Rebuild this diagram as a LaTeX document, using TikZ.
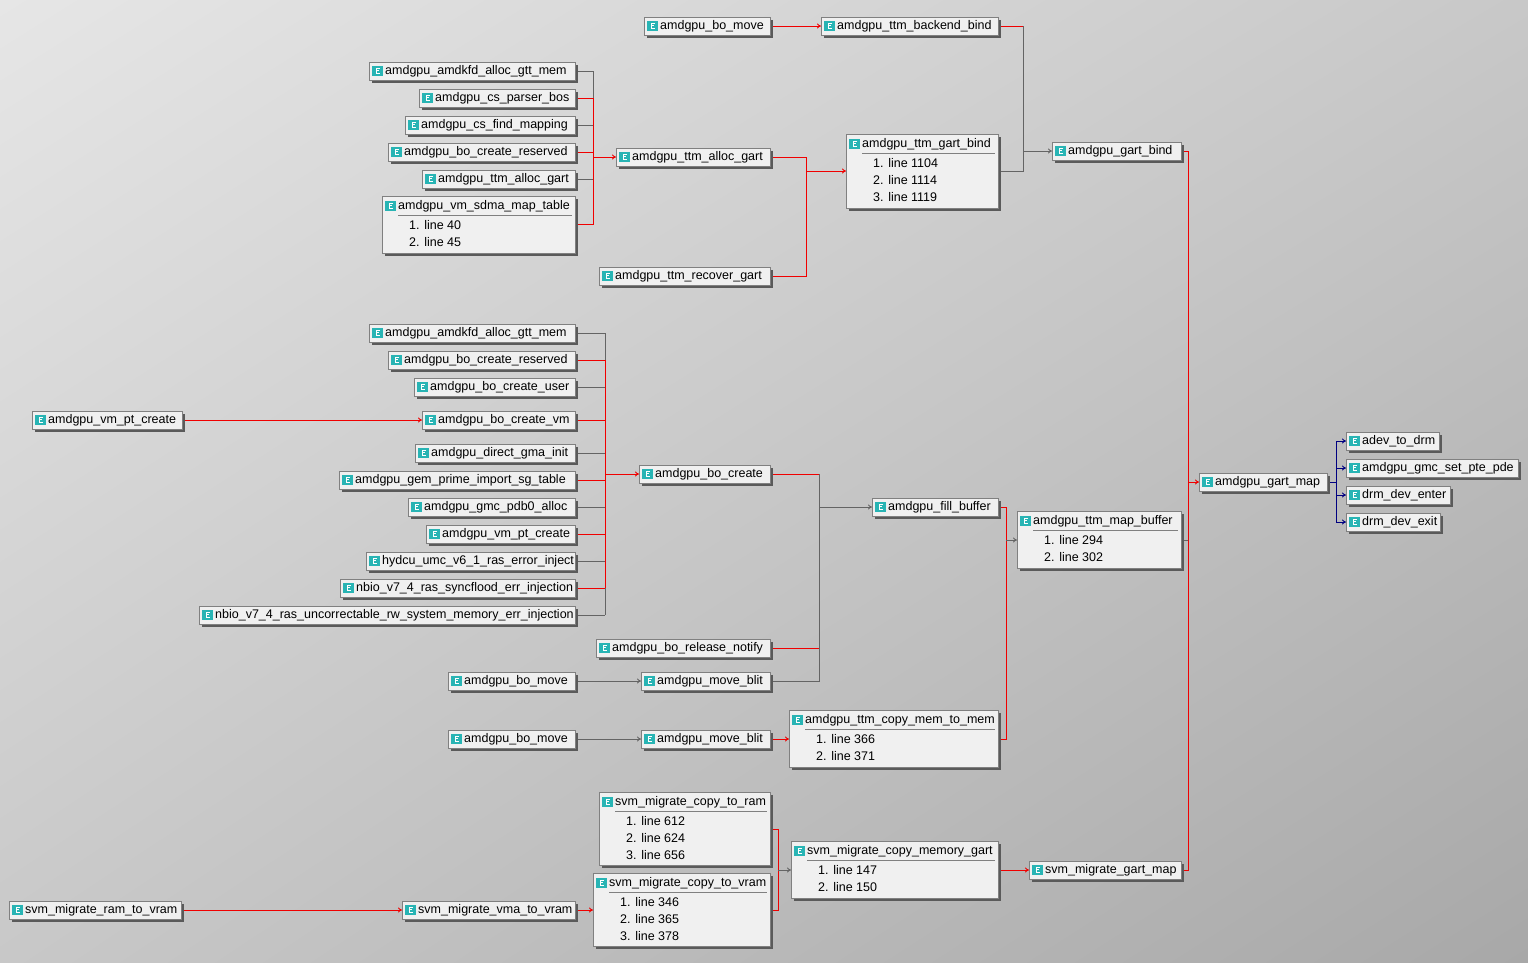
\documentclass[tikz,border=0pt]{standalone}
\usepackage{fontspec}
\setmainfont{Liberation Sans}
\usetikzlibrary{arrows.meta,shadings}
\definecolor{bgA}{RGB}{230,230,230}
\definecolor{bgB}{RGB}{200,200,200}
\definecolor{bgC}{RGB}{168,168,168}
\definecolor{boxfill}{RGB}{240,240,240}
\definecolor{boxline}{RGB}{128,128,128}
\definecolor{shadowc}{RGB}{90,90,90}
\definecolor{iconc}{RGB}{40,180,180}
\definecolor{redc}{RGB}{240,0,0}
\definecolor{grayc}{RGB}{100,100,100}
\definecolor{navyc}{RGB}{0,0,128}
\tikzset{
  boxst/.style={draw=boxline,fill=boxfill,line width=1pt,inner sep=0pt,anchor=north west},
  lbl/.style={anchor=west,inner sep=0pt,font=\fontsize{12.5}{14}\selectfont,text=black},
  rd/.style={draw=redc,line width=0.9pt},
  gr/.style={draw=grayc,line width=0.9pt},
  nv/.style={draw=navyc,line width=0.9pt},
  arr/.style={-{To[length=4pt,width=5pt]}},
}
% name, x1, x2, yc, text
\newcommand\fn[5]{%
  \fill[shadowc] (#2+3,#4-6) rectangle (#3+3,#4+12);
  \node[boxst,minimum width=#3pt-#2pt,minimum height=18pt] (#1) at (#2,#4-9) {};
  \fill[iconc] (#2+3,#4-5.5) rectangle (#2+14,#4+5);
  \draw[white,line width=0.9pt] (#2+11,#4-3) -- (#2+7,#4-3) -- (#2+7,#4+2.5) -- (#2+11,#4+2.5) (#2+7,#4-0.3) -- (#2+10,#4-0.3);
  \node[lbl] at (#2+16,#4) {#5};}
% name, x1, x2, ytop, ybot, title, lines
\newcommand\fm[7]{%
  \fill[shadowc] (#2+3,#4+3) rectangle (#3+3,#5+3);
  \node[boxst,minimum width=#3pt-#2pt,minimum height=#5pt-#4pt] (#1) at (#2,#4) {};
  \fill[iconc] (#2+3,#4+4.5) rectangle (#2+14,#4+15);
  \draw[white,line width=0.9pt] (#2+11,#4+7) -- (#2+7,#4+7) -- (#2+7,#4+12.5) -- (#2+11,#4+12.5) (#2+7,#4+9.7) -- (#2+10,#4+9.7);
  \node[lbl] at (#2+16,#4+10) {#6};
  \draw[boxline,line width=0.8pt] (#2+16,#4+19) -- (#3-3,#4+19);
  \foreach \t [count=\i] in {#7} {\node[lbl] at (#2+27,#4+12+17*\i) {\t};}}
\begin{document}
\begin{tikzpicture}[x=1pt,y=-1pt]
\shade[upper left=bgA,upper right=bgB,lower left=bgB,lower right=bgC] (0,0) rectangle (1528,962);
\useasboundingbox (0,0) rectangle (1528,962);
% ---------- connectors ----------
\draw[rd,arr] (770,26) -- (821,26);
\draw[rd] (998,26) -- (1023,26);
\draw[gr] (1023,26) -- (1023,171) -- (998,171);
\draw[gr,arr] (1023,151) -- (1052,151);
% group top
\draw[gr] (575,71) -- (593,71) -- (593,98);
\draw[gr] (575,125) -- (593,125);
\draw[gr] (575,179) -- (593,179);
\draw[rd] (575,98) -- (593,98) -- (593,224) -- (575,224);
\draw[rd] (575,152) -- (593,152);
\draw[rd,arr] (593,157) -- (616,157);
\draw[rd] (770,157) -- (806,157) -- (806,276) -- (770,276);
\draw[rd,arr] (806,171) -- (846,171);
% gart_bind bus
\draw[gr] (1181,540) -- (1188,540);
\draw[rd] (1181,151) -- (1188,151) -- (1188,870) -- (1181,870);
\draw[rd,arr] (1188,482) -- (1199,482);
\draw[nv] (1327,482) -- (1336,482);
\draw[nv] (1336,441) -- (1336,522);
\foreach \y in {441,468,495,522} \draw[nv,arr] (1336,\y) -- (1346,\y);
% group 2
\foreach \y in {333,387,453,507,561,615} \draw[gr] (575,\y) -- (605,\y);
\draw[gr] (605,333) -- (605,615);
\foreach \y in {360,420,480,534,588} \draw[rd] (575,\y) -- (605,\y);
\draw[rd] (605,360) -- (605,588);
\draw[rd,arr] (605,474) -- (639,474);
\draw[rd,arr] (182,420) -- (422,420);
\draw[rd] (770,474) -- (819,474);
\draw[gr] (819,474) -- (819,681) -- (770,681);
\draw[rd] (770,648) -- (819,648);
\draw[gr,arr] (819,507) -- (872,507);
\draw[gr,arr] (575,681) -- (641,681);
\draw[gr,arr] (575,739) -- (641,739);
\draw[rd,arr] (770,739) -- (789,739);
\draw[rd] (998,507) -- (1006,507) -- (1006,739) -- (998,739);
\draw[gr,arr] (1006,540) -- (1017,540);
% svm
\draw[rd] (770,829) -- (778,829) -- (778,910) -- (770,910);
\draw[gr,arr] (778,870) -- (791,870);
\draw[rd,arr] (181,910) -- (402,910);
\draw[rd,arr] (575,910) -- (593,910);
\draw[rd,arr] (998,870) -- (1029,870);
% ---------- nodes ----------
\fn{bomoveA}{644}{770}{26}{amdgpu\_bo\_move}
\fn{backend}{821}{998}{26}{amdgpu\_ttm\_backend\_bind}
\fn{kfdA}{369}{575}{71}{amdgpu\_amdkfd\_alloc\_gtt\_mem}
\fn{parser}{419}{575}{98}{amdgpu\_cs\_parser\_bos}
\fn{findmap}{405}{575}{125}{amdgpu\_cs\_find\_mapping}
\fn{reservA}{388}{575}{152}{amdgpu\_bo\_create\_reserved}
\fn{allocA}{422}{575}{179}{amdgpu\_ttm\_alloc\_gart}
\fm{sdma}{382}{575}{196}{253}{amdgpu\_vm\_sdma\_map\_table}{1. line 40,2. line 45}
\fn{allocB}{616}{770}{157}{amdgpu\_ttm\_alloc\_gart}
\fn{recover}{599}{770}{276}{amdgpu\_ttm\_recover\_gart}
\fm{gartbindttm}{846}{998}{134}{208}{amdgpu\_ttm\_gart\_bind}{1. line 1104,2. line 1114,3. line 1119}
\fn{gartbind}{1052}{1181}{151}{amdgpu\_gart\_bind}
\fn{kfdB}{369}{575}{333}{amdgpu\_amdkfd\_alloc\_gtt\_mem}
\fn{reservB}{388}{575}{360}{amdgpu\_bo\_create\_reserved}
\fn{cuser}{414}{575}{387}{amdgpu\_bo\_create\_user}
\fn{cvm}{422}{575}{420}{amdgpu\_bo\_create\_vm}
\fn{ptcreateL}{32}{182}{420}{amdgpu\_vm\_pt\_create}
\fn{gma}{415}{575}{453}{amdgpu\_direct\_gma\_init}
\fn{prime}{339}{575}{480}{amdgpu\_gem\_prime\_import\_sg\_table}
\fn{pdb}{408}{575}{507}{amdgpu\_gmc\_pdb0\_alloc}
\fn{ptcreate}{426}{575}{534}{amdgpu\_vm\_pt\_create}
\fn{hydcu}{366}{575}{561}{hydcu\_umc\_v6\_1\_ras\_error\_inject}
\fn{nbioA}{340}{575}{588}{nbio\_v7\_4\_ras\_syncflood\_err\_injection}
\fn{nbioB}{199}{575}{615}{nbio\_v7\_4\_ras\_uncorrectable\_rw\_system\_memory\_err\_injection}
\fn{bocreate}{639}{770}{474}{amdgpu\_bo\_create}
\fn{release}{596}{770}{648}{amdgpu\_bo\_release\_notify}
\fn{bomoveB}{448}{575}{681}{amdgpu\_bo\_move}
\fn{blitB}{641}{770}{681}{amdgpu\_move\_blit}
\fn{bomoveC}{448}{575}{739}{amdgpu\_bo\_move}
\fn{blitC}{641}{770}{739}{amdgpu\_move\_blit}
\fm{copymem}{789}{998}{710}{767}{amdgpu\_ttm\_copy\_mem\_to\_mem}{1. line 366,2. line 371}
\fn{fill}{872}{998}{507}{amdgpu\_fill\_buffer}
\fm{mapbuf}{1017}{1181}{511}{568}{amdgpu\_ttm\_map\_buffer}{1. line 294,2. line 302}
\fn{gartmap}{1199}{1327}{482}{amdgpu\_gart\_map}
\fn{adev}{1346}{1439}{441}{adev\_to\_drm}
\fn{pte}{1346}{1518}{468}{amdgpu\_gmc\_set\_pte\_pde}
\fn{enter}{1346}{1450}{495}{drm\_dev\_enter}
\fn{exit}{1346}{1440}{522}{drm\_dev\_exit}
\fm{toram}{599}{770}{792}{865}{svm\_migrate\_copy\_to\_ram}{1. line 612,2. line 624,3. line 656}
\fm{tovram}{593}{770}{873}{946}{svm\_migrate\_copy\_to\_vram}{1. line 346,2. line 365,3. line 378}
\fn{ramvram}{9}{181}{910}{svm\_migrate\_ram\_to\_vram}
\fn{vmavram}{402}{575}{910}{svm\_migrate\_vma\_to\_vram}
\fm{copygart}{791}{998}{841}{898}{svm\_migrate\_copy\_memory\_gart}{1. line 147,2. line 150}
\fn{svmgart}{1029}{1181}{870}{svm\_migrate\_gart\_map}
\end{tikzpicture}
\end{document}
